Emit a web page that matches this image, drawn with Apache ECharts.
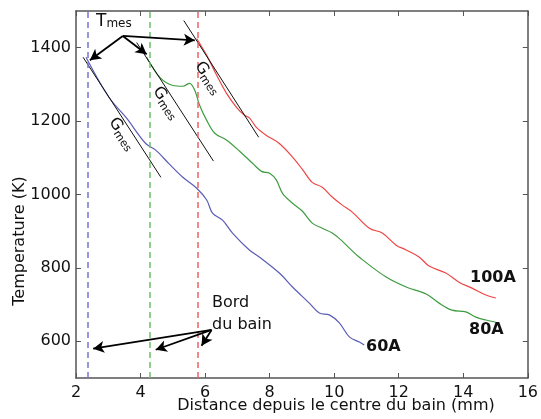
<!DOCTYPE html>
<html>
<head>
    <meta charset="utf-8">
    <title>Temperature profile</title>
    <script src="https://cdn.jsdelivr.net/npm/echarts@6/dist/echarts.min.js"></script>
    <style>
        html, body { margin: 0; padding: 0; background: #fff; }
    </style>
</head>
<body>
<div id="main" style="width: 541px;height:419px;"></div>
<script type="text/javascript">
    // data: [distance (mm), temperature (K)]
    var curve60A = [[2.31,1374],[3.02,1265],[3.55,1210],[4.16,1139],[4.47,1121],[4.87,1085],[5.31,1047],
        [5.74,1017],[6.05,985],[6.23,949],[6.54,930],[6.85,895],[7.38,848],[7.69,829],[8.30,786],
        [8.71,748],[9.23,704],[9.54,677],[9.85,672],[10.16,650],[10.47,612],[10.78,598],[10.93,590]];
    var curve80A = [[4.19,1374],[4.60,1319],[5.00,1297],[5.31,1295],[5.52,1303],[5.68,1284],[5.83,1243],
        [6.05,1202],[6.30,1167],[6.67,1148],[7.07,1118],[7.47,1085],[7.75,1063],[8.00,1058],[8.21,1039],
        [8.40,1003],[8.71,976],[9.01,955],[9.32,922],[9.63,908],[9.94,895],[10.25,873],[10.47,854],
        [10.78,829],[11.61,775],[12.23,748],[12.85,729],[13.25,704],[13.65,685],[14.08,680],[14.39,666],
        [14.70,658],[15.01,652]];
    var curve100A = [[5.74,1425],[6.05,1379],[6.36,1325],[6.67,1275],[6.98,1237],[7.22,1216],[7.38,1208],
        [7.59,1183],[7.90,1161],[8.30,1139],[8.71,1102],[9.01,1069],[9.32,1033],[9.63,1020],[9.94,993],
        [10.25,971],[10.56,952],[11.09,908],[11.49,895],[11.92,862],[12.23,849],[12.63,830],[12.94,805],
        [13.46,786],[13.87,761],[14.27,745],[14.70,726],[15.01,718]];
    // tangent lines (G mes)
    var tangent60A = [[2.22,1374],[4.63,1047]];
    var tangent80A = [[3.88,1414],[6.26,1091]];
    var tangent100A = [[5.34,1474],[7.66,1156]];
    // bath edge positions (mm)
    var bathEdge = [2.36, 4.29, 5.76];
    // arrows
    var tmesFrom = [3.45,1432];
    var tmesTo = [[2.43,1366],[4.19,1382],[5.68,1420]];
    var bordFrom = [6.20,631];
    var bordTo = [[2.53,580],[4.47,577],[5.89,588]];
    var yTicks = [600,800,1000,1200,1400];

    var colors = ['#5a5db5', '#3f9c40', '#ec4747'];
    var dashColors = ['#7575d2', '#6cbf6c', '#ef6161'];
    var fontFam = 'DejaVu Sans';

    var myChart = echarts.init(document.getElementById('main'));

    function arrowLines(from, tos) {
        return tos.map(function (t) {
            return [{coord: from}, {coord: t}];
        });
    }

    function curve(name, data, color, edgeX, dashColor) {
        return {
            name: name,
            type: 'line',
            data: data,
            smooth: 0.35,
            showSymbol: false,
            lineStyle: {color: color, width: 1.2},
            z: 3,
            markLine: {
                silent: true, symbol: ['none', 'none'], label: {show: false},
                lineStyle: {color: dashColor, type: [6, 4], width: 1.5},
                data: [{xAxis: edgeX}]
            }
        };
    }

    function tangent(data) {
        return {
            type: 'line',
            data: data,
            showSymbol: false,
            lineStyle: {color: '#111', width: 1},
            z: 4
        };
    }

    function gmes(x, y) {
        return {type: 'text', x: x, y: y, rotation: -0.99, z: 10,
            style: {text: '{g|G}{s|mes}', align: 'center', verticalAlign: 'middle', rich: {
                g: {fontFamily: fontFam, fontSize: 16, fill: '#111'},
                s: {fontFamily: fontFam, fontSize: 11, fill: '#111', padding: [8, 0, 0, 0]}
            }}};
    }

    var tickStyle = {show: true, inside: true, length: 5, lineStyle: {color: '#555'}};
    var lineStyleAxis = {show: true, lineStyle: {color: '#555', width: 1.5}};

    var option = {
        animation: false,
        grid: {left: 76, right: 12, top: 11, bottom: 41, containLabel: false},
        xAxis: [
            {
                type: 'value', min: 2, max: 16, interval: 2,
                axisLine: lineStyleAxis, axisTick: tickStyle, splitLine: {show: false},
                axisLabel: {fontFamily: fontFam, fontSize: 16, color: '#111', margin: 7}
            },
            {
                type: 'value', min: 2, max: 16, interval: 2, position: 'top',
                axisLine: lineStyleAxis, axisTick: tickStyle, splitLine: {show: false},
                axisLabel: {show: false}
            }
        ],
        yAxis: [
            {
                type: 'value', min: 500, max: 1500,
                axisLine: lineStyleAxis, splitLine: {show: false},
                axisLabel: {fontFamily: fontFam, fontSize: 16, color: '#111', margin: 5, customValues: yTicks,
                    formatter: function (v) { return String(v); }},
                axisTick: Object.assign({customValues: yTicks}, tickStyle)
            },
            {
                type: 'value', min: 500, max: 1500, position: 'right',
                axisLine: lineStyleAxis, splitLine: {show: false},
                axisLabel: {show: false, customValues: yTicks},
                axisTick: Object.assign({customValues: yTicks}, tickStyle)
            }
        ],
        series: [
            curve('60A', curve60A, colors[0], bathEdge[0], dashColors[0]),
            curve('80A', curve80A, colors[1], bathEdge[1], dashColors[1]),
            curve('100A', curve100A, colors[2], bathEdge[2], dashColors[2]),
            tangent(tangent60A),
            tangent(tangent80A),
            tangent(tangent100A),
            {
                type: 'line',
                data: [],
                markLine: {
                    silent: true,
                    symbol: ['none', 'arrow'],
                    symbolSize: [9, 11],
                    label: {show: false},
                    lineStyle: {color: '#000', width: 1.8, type: 'solid'},
                    data: arrowLines(tmesFrom, tmesTo).concat(arrowLines(bordFrom, bordTo))
                },
                z: 6
            }
        ],
        graphic: [
            // axis titles
            {type: 'text', x: 336, y: 406, z: 10,
                style: {text: 'Distance depuis le centre du bain (mm)', align: 'center', verticalAlign: 'middle',
                    fontFamily: fontFam, fontSize: 16, fill: '#111'}},
            {type: 'text', x: 20, y: 241, rotation: Math.PI / 2, z: 10,
                style: {text: 'Temperature (K)', align: 'center', verticalAlign: 'middle',
                    fontFamily: fontFam, fontSize: 16, fill: '#111'}},
            // annotations
            {type: 'text', left: 96, top: 13, z: 10,
                style: {text: '{t|T}{s|mes}', rich: {
                    t: {fontFamily: fontFam, fontSize: 17, fill: '#111', verticalAlign: 'bottom'},
                    s: {fontFamily: fontFam, fontSize: 12, fill: '#111', padding: [8, 0, 0, 0], verticalAlign: 'bottom'}
                }}},
            gmes(122, 134),
            gmes(166, 103),
            gmes(208, 78),
            {type: 'text', left: 212, top: 292, z: 10,
                style: {text: 'Bord\ndu bain', fontFamily: fontFam, fontSize: 16, lineHeight: 22, fill: '#111'}},
            {type: 'text', left: 470, top: 270, z: 10,
                style: {text: '100A', fontFamily: fontFam, fontSize: 16, fontWeight: 'bold', fill: '#111'}},
            {type: 'text', left: 469, top: 322, z: 10,
                style: {text: '80A', fontFamily: fontFam, fontSize: 16, fontWeight: 'bold', fill: '#111'}},
            {type: 'text', left: 366, top: 339, z: 10,
                style: {text: '60A', fontFamily: fontFam, fontSize: 16, fontWeight: 'bold', fill: '#111'}}
        ]
    };
    myChart.setOption(option);
</script>
</body>
</html>
